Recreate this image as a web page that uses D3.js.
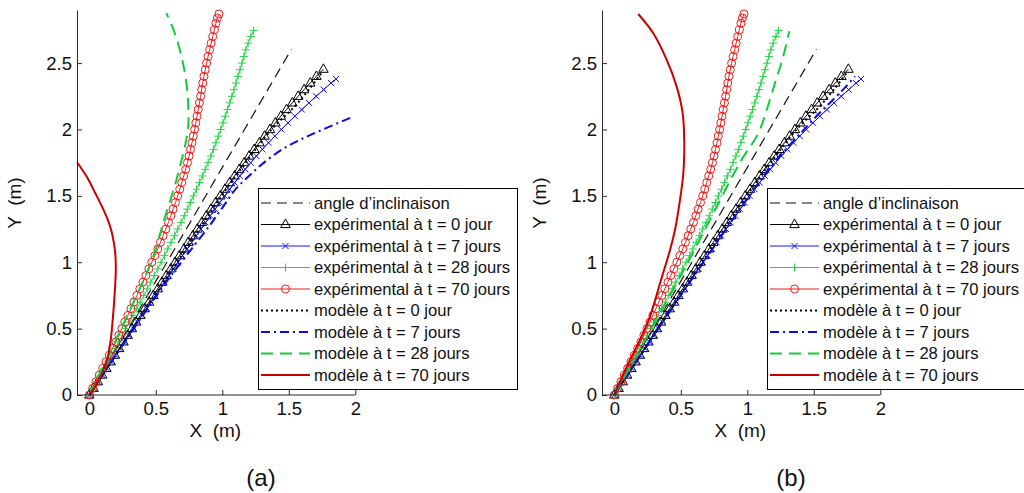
<!DOCTYPE html>
<html><head><meta charset="utf-8">
<script src="https://cdn.jsdelivr.net/npm/d3@7"></script>
<style>
body{margin:0;background:#fff}
svg{display:block}
text{font-family:"Liberation Sans",Arial,Helvetica,sans-serif;fill:#111}
</style>
</head><body>
<svg id="c" width="1024" height="493"></svg>
<script>
// ---------- data ----------
const xTicks = [0, 0.5, 1, 1.5, 2];
const yTicks = [0, 0.5, 1, 1.5, 2, 2.5];
const xLabel = "X  (m)";
const yLabel = "Y  (m)";
const panelLabels = ["(a)", "(b)"];
const legendLabels = [
  "angle d\u2019inclinaison",
  "expérimental à t = 0 jour",
  "expérimental à t = 7 jours",
  "expérimental à t = 28 jours",
  "expérimental à t = 70 jours",
  "modèle à t = 0 jour",
  "modèle à t = 7 jours",
  "modèle à t = 28 jours",
  "modèle à t = 70 jours"
];

// [X, Y] in metres
const angleLine = [[0,0],[1.52,2.605]];

const exp0 = [[0,0],[0.032,0.05],[0.064,0.10],[0.096,0.15],[0.128,0.20],[0.160,0.25],[0.192,0.30],[0.224,0.35],[0.256,0.40],[0.288,0.45],[0.320,0.50],[0.352,0.55],[0.384,0.60],[0.416,0.65],[0.449,0.70],[0.481,0.75],[0.514,0.80],[0.546,0.85],[0.579,0.90],[0.612,0.95],[0.645,1.00],[0.678,1.05],[0.711,1.10],[0.744,1.15],[0.778,1.20],[0.812,1.25],[0.846,1.30],[0.880,1.35],[0.915,1.40],[0.950,1.45],[0.985,1.50],[1.020,1.55],[1.056,1.60],[1.092,1.65],[1.128,1.70],[1.165,1.75],[1.202,1.80],[1.240,1.85],[1.279,1.90],[1.318,1.95],[1.358,2.00],[1.399,2.05],[1.440,2.10],[1.483,2.15],[1.526,2.20],[1.570,2.25],[1.615,2.30],[1.661,2.35],[1.707,2.40],[1.760,2.454]];

const exp7 = [[0,0],[0.033,0.05],[0.066,0.10],[0.099,0.15],[0.132,0.20],[0.165,0.25],[0.198,0.30],[0.231,0.35],[0.264,0.40],[0.297,0.45],[0.330,0.50],[0.363,0.55],[0.397,0.60],[0.430,0.65],[0.464,0.70],[0.497,0.75],[0.531,0.80],[0.565,0.85],[0.599,0.90],[0.633,0.95],[0.667,1.00],[0.701,1.05],[0.735,1.10],[0.770,1.15],[0.804,1.20],[0.839,1.25],[0.874,1.30],[0.910,1.35],[0.945,1.40],[0.981,1.45],[1.018,1.50],[1.055,1.55],[1.093,1.60],[1.132,1.65],[1.172,1.70],[1.213,1.75],[1.256,1.80],[1.301,1.85],[1.347,1.90],[1.395,1.95],[1.444,2.00],[1.494,2.05],[1.546,2.10],[1.598,2.15],[1.652,2.20],[1.706,2.25],[1.762,2.30],[1.818,2.35],[1.855,2.38]];

const exp28 = [[0,0],[0.028,0.05],[0.055,0.10],[0.083,0.15],[0.110,0.20],[0.138,0.25],[0.165,0.30],[0.193,0.35],[0.220,0.40],[0.248,0.45],[0.275,0.50],[0.303,0.55],[0.330,0.60],[0.357,0.65],[0.383,0.70],[0.410,0.75],[0.436,0.80],[0.462,0.85],[0.488,0.90],[0.514,0.95],[0.540,1.00],[0.565,1.05],[0.590,1.10],[0.615,1.15],[0.640,1.20],[0.665,1.25],[0.690,1.30],[0.714,1.35],[0.737,1.40],[0.760,1.45],[0.783,1.50],[0.806,1.55],[0.828,1.60],[0.850,1.65],[0.872,1.70],[0.893,1.75],[0.914,1.80],[0.933,1.85],[0.952,1.90],[0.970,1.95],[0.988,2.00],[1.005,2.05],[1.022,2.10],[1.039,2.15],[1.056,2.20],[1.072,2.25],[1.088,2.30],[1.103,2.35],[1.118,2.40],[1.133,2.45],[1.148,2.50],[1.162,2.55],[1.177,2.60],[1.194,2.65],[1.215,2.70],[1.235,2.745]];

const exp70 = [[0,0],[0.025,0.05],[0.050,0.10],[0.075,0.15],[0.100,0.20],[0.125,0.25],[0.150,0.30],[0.175,0.35],[0.200,0.40],[0.222,0.45],[0.245,0.50],[0.268,0.55],[0.290,0.60],[0.313,0.65],[0.335,0.70],[0.358,0.75],[0.380,0.80],[0.403,0.85],[0.425,0.90],[0.448,0.95],[0.470,1.00],[0.493,1.05],[0.515,1.10],[0.535,1.15],[0.555,1.20],[0.575,1.25],[0.595,1.30],[0.613,1.35],[0.630,1.40],[0.648,1.45],[0.665,1.50],[0.680,1.55],[0.695,1.60],[0.710,1.65],[0.725,1.70],[0.738,1.75],[0.750,1.80],[0.761,1.85],[0.772,1.90],[0.782,1.95],[0.792,2.00],[0.801,2.05],[0.810,2.10],[0.819,2.15],[0.828,2.20],[0.837,2.25],[0.845,2.30],[0.853,2.35],[0.862,2.40],[0.872,2.45],[0.882,2.50],[0.893,2.55],[0.905,2.60],[0.916,2.65],[0.928,2.70],[0.940,2.75],[0.952,2.80],[0.963,2.84],[0.975,2.87]];

// model curves, panel (a)
const model0a = [[0,0],[0.33,0.50],[0.66,1.00],[0.995,1.50],[1.175,1.75],[1.37,2.00],[1.55,2.18],[1.65,2.30],[1.75,2.43]];
const model7a = [[0,0],[0.30,0.45],[0.60,0.88],[0.90,1.27],[1.00,1.41],[1.10,1.55],[1.20,1.65],[1.30,1.74],[1.45,1.85],[1.60,1.93],[1.78,2.01],[1.99,2.10]];
const model28a = [[0,0],[0.24,0.50],[0.48,1.04],[0.555,1.294],[0.655,1.62],[0.72,1.88],[0.742,2.00],[0.745,2.15],[0.73,2.35],[0.693,2.55],[0.643,2.725],[0.58,2.876]];
const model70a = [[0,0],[0.06,0.09],[0.133,0.264],[0.158,0.39],[0.178,0.59],[0.193,0.80],[0.199,0.93],[0.197,1.04],[0.186,1.14],[0.165,1.24],[0.135,1.33],[0.095,1.42],[0.045,1.52],[-0.02,1.645],[-0.092,1.753]];

// model curves, panel (b)
const model0b = [[0,0],[0.33,0.50],[0.66,1.00],[0.995,1.50],[1.175,1.75],[1.37,2.00],[1.55,2.18],[1.65,2.30],[1.75,2.43]];
const model7b = [[0,0],[0.33,0.50],[0.67,1.00],[1.00,1.48],[1.20,1.75],[1.40,1.97],[1.52,2.10],[1.62,2.20],[1.72,2.30],[1.81,2.40]];
const model28b = [[0,0],[0.25,0.45],[0.50,0.90],[0.75,1.38],[0.95,1.76],[1.083,1.972],[1.146,2.148],[1.208,2.35],[1.27,2.55],[1.316,2.74]];
const model70b = [[0,0],[0.093,0.213],[0.193,0.414],[0.268,0.59],[0.344,0.842],[0.419,1.093],[0.456,1.243],[0.494,1.47],[0.519,1.67],[0.526,1.897],[0.514,2.123],[0.469,2.323],[0.394,2.525],[0.293,2.725],[0.18,2.87]];

// ---------- drawing ----------
const svg = d3.select("#c");
const styles = [
  {color:"#111", width:1.2, dash:"10,6", marker:null},
  {color:"#000", width:1, dash:null, marker:"tri"},
  {color:"#1010ff", width:1, dash:null, marker:"x"},
  {color:"#2ad24c", width:1, dash:null, marker:"plus"},
  {color:"#ee1c1c", width:1, dash:null, marker:"circle"},
  {color:"#000", width:2, dash:"2,3", marker:null},
  {color:"#0a0ae6", width:2, dash:"9,4,2,4", marker:null},
  {color:"#11cc3a", width:2, dash:"12,7", marker:null},
  {color:"#cc0000", width:2, dash:null, marker:null}
];
const markerPath = {
  tri: "M0,-5.4L4.8,3.1L-4.8,3.1Z",
  x: "M-3,-3L3,3M-3,3L3,-3",
  plus: "M-4,0H4M0,-4V4"
};

function drawMarker(g, type, cx, cy, color){
  if(type==="circle"){
    g.append("circle").attr("cx",cx).attr("cy",cy).attr("r",4)
      .attr("fill","none").attr("stroke",color).attr("stroke-width",1);
  } else {
    g.append("path").attr("d",markerPath[type]).attr("transform",`translate(${cx},${cy})`)
      .attr("fill","none").attr("stroke",color).attr("stroke-width",1);
  }
}

const panels = [
  {axisX:77, legendX:258, label:panelLabels[0], labelX:261, models:[model0a,model7a,model28a,model70a]},
  {axisX:602, legendX:767, label:panelLabels[1], labelX:791, models:[model0b,model7b,model28b,model70b]}
];

panels.forEach(p => {
  const x = d3.scaleLinear().domain([-0.0925, 2]).range([p.axisX, p.axisX + 278.3]);
  const y = d3.scaleLinear().domain([0, 2.9]).range([395, 10]);
  const g = svg.append("g");

  const series = [angleLine, exp0, exp7, exp28, exp70].concat(p.models);
  series.forEach((data, i) => {
    const s = styles[i];
    const smooth = i >= 5;
    const line = d3.line().x(d=>x(d[0])).y(d=>y(d[1]))
      .curve(smooth ? d3.curveCatmullRom.alpha(0.5) : d3.curveLinear);
    g.append("path").datum(data).attr("d", line)
      .attr("fill","none").attr("stroke",s.color).attr("stroke-width",s.width)
      .attr("stroke-dasharray", s.dash).attr("stroke-linejoin","round");
    if (s.marker) {
      const mg = g.append("g");
      data.forEach(d => drawMarker(mg, s.marker, x(d[0]), y(d[1]), s.color));
    }
  });

  // axes
  const ax = svg.append("g").attr("transform","translate(0,395)")
    .call(d3.axisBottom(x).tickValues(xTicks).tickFormat(d=>String(d)).tickSizeInner(-5).tickSizeOuter(0).tickPadding(7));
  const ay = svg.append("g").attr("transform",`translate(${p.axisX},0)`)
    .call(d3.axisLeft(y).tickValues(yTicks).tickFormat(d=>String(d)).tickSizeInner(-5).tickSizeOuter(0).tickPadding(5));
  [ax, ay].forEach(a => {
    a.select(".domain").attr("stroke","#2a2a2a");
    a.selectAll(".tick line").attr("stroke","#2a2a2a");
    a.selectAll(".tick text").attr("font-size",18.5).attr("font-family","Liberation Sans, Arial, sans-serif").attr("fill","#111");
  });
  ax.select(".domain").attr("d", `M${p.axisX},0H${x(2)}`);

  svg.append("text").attr("x", x(1) - 7).attr("y", 437)
    .attr("text-anchor","middle").attr("font-size",19).style("white-space","pre").text(xLabel);
  svg.append("text").attr("transform",`translate(${p.axisX - 56},203) rotate(-90)`)
    .attr("text-anchor","middle").attr("font-size",19).style("white-space","pre").text(yLabel);

  // legend
  const lg = svg.append("g").attr("transform",`translate(${p.legendX},188)`);
  lg.append("rect").attr("x",0.5).attr("y",0.5).attr("width",259).attr("height",201)
    .attr("fill","#fff").attr("stroke","#000").attr("stroke-width",1);
  legendLabels.forEach((lab, i) => {
    const s = styles[i];
    const ry = 15 + i*21.5;
    lg.append("line").attr("x1",3).attr("x2",52).attr("y1",ry).attr("y2",ry)
      .attr("stroke",s.color).attr("stroke-width",s.width).attr("stroke-dasharray",s.dash);
    if (s.marker) drawMarker(lg, s.marker, 27.5, ry, s.color);
    lg.append("text").attr("x",56).attr("y",ry).attr("dy","0.35em")
      .attr("font-size",16.6).text(lab);
  });

  svg.append("text").attr("x", p.labelX).attr("y", 486).attr("text-anchor","middle")
    .attr("font-family","DejaVu Sans, sans-serif").attr("font-size",24).attr("fill","#333")
    .text(p.label);
});
</script>
</body></html>
